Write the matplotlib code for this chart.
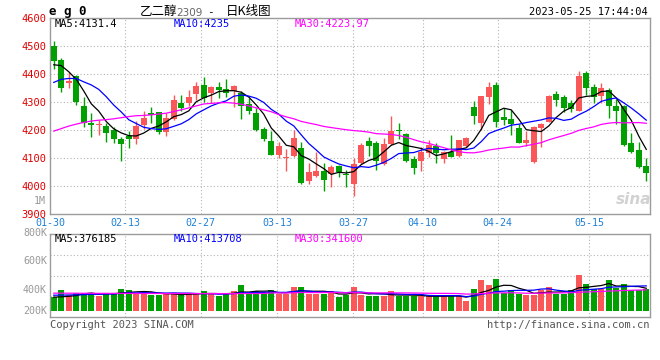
import numpy as np
import matplotlib.pyplot as plt

plt.rcParams['font.family'] = ['DejaVu Sans Mono', 'Noto Sans CJK SC']

# ---- data ----
tick_labels = ['01-30', '02-13', '02-27', '03-13', '03-27', '04-10', '04-24', '05-15']
tick_pos = [-0.5, 9.5, 19.6, 29.8, 39.9, 49.2, 59.2, 71.4]

opens = [4500, 4450, 4367, 4394, 4286, 4225, 4217, 4214, 4200, 4168,
         4179, 4169, 4219, 4261, 4264, 4192, 4239, 4296, 4296, 4329,
         4361, 4331, 4354, 4345, 4340, 4331, 4293, 4261, 4204, 4161,
         4111, 4099, 4107, 4137, 4019, 4036, 4054, 4043, 4071, 4043,
         4007, 4081, 4161, 4152, 4079, 4149, 4199, 4186, 4095, 4090,
         4119, 4144, 4098, 4121, 4108, 4144, 4281, 4224, 4319, 4361,
         4245, 4239, 4208, 4155, 4084, 4208, 4230, 4329, 4318, 4298,
         4269, 4405, 4355, 4321, 4343, 4286, 4286, 4152, 4129, 4071]
highs = [4518, 4456, 4408, 4396, 4319, 4261, 4236, 4224, 4210, 4176,
         4198, 4232, 4268, 4281, 4264, 4260, 4325, 4325, 4343, 4371,
         4388, 4357, 4373, 4382, 4361, 4339, 4316, 4277, 4210, 4198,
         4158, 4132, 4200, 4157, 4081, 4123, 4083, 4075, 4075, 4057,
         4099, 4155, 4176, 4162, 4170, 4250, 4225, 4188, 4107, 4138,
         4164, 4152, 4126, 4182, 4166, 4175, 4304, 4323, 4373, 4373,
         4277, 4271, 4221, 4196, 4214, 4226, 4325, 4339, 4324, 4307,
         4411, 4412, 4364, 4369, 4349, 4309, 4288, 4188, 4158, 4099]
lows = [4417, 4337, 4351, 4288, 4210, 4176, 4183, 4158, 4152, 4090,
        4137, 4150, 4205, 4226, 4186, 4179, 4236, 4269, 4287, 4307,
        4301, 4298, 4313, 4319, 4281, 4240, 4257, 4198, 4161, 4109,
        4099, 4055, 4105, 4007, 4007, 4033, 3983, 3995, 4031, 3998,
        3965, 4079, 4107, 4057, 4075, 4146, 4167, 4085, 4043, 4055,
        4105, 4083, 4081, 4103, 4105, 4138, 4221, 4200, 4293, 4212,
        4218, 4182, 4153, 4143, 4083, 4138, 4228, 4286, 4264, 4265,
        4267, 4324, 4295, 4295, 4242, 4221, 4143, 4117, 4065, 4019]
closes = [4447, 4351, 4376, 4299, 4224, 4218, 4220, 4190, 4169, 4151,
          4169, 4214, 4243, 4252, 4194, 4242, 4307, 4280, 4318, 4357,
          4313, 4355, 4343, 4333, 4358, 4286, 4269, 4201, 4169, 4111,
          4143, 4104, 4173, 4012, 4050, 4055, 4021, 4069, 4050, 4038,
          4079, 4146, 4144, 4090, 4150, 4197, 4195, 4090, 4065, 4123,
          4146, 4119, 4120, 4105, 4164, 4173, 4250, 4321, 4352, 4230,
          4236, 4221, 4155, 4164, 4211, 4221, 4321, 4307, 4277, 4274,
          4393, 4349, 4319, 4351, 4286, 4268, 4146, 4123, 4069, 4048]
# volume in thousands
volumes = [233, 350, 268, 303, 303, 303, 262, 303, 297, 367,
           350, 309, 332, 268, 268, 292, 292, 268, 297, 297,
           332, 297, 256, 292, 332, 437, 292, 332, 292, 350,
           292, 292, 402, 402, 292, 292, 292, 338, 233, 280,
           408, 280, 251, 262, 262, 332, 251, 251, 251, 251,
           251, 251, 251, 268, 251, 163, 367, 531, 437, 542,
           309, 350, 297, 268, 280, 350, 414, 297, 297, 350,
           612, 455, 379, 367, 525, 397, 455, 350, 350, 379]

# moving-average values before enough visible days exist
ma5_head = [4433, 4430, 4408, 4381]
ma10_head = [4370, 4381, 4384, 4384, 4372, 4361, 4345, 4319, 4289]
ma30_head = [4196, 4205, 4214, 4221, 4227, 4232, 4235, 4237, 4240, 4244,
             4248, 4251, 4252, 4254, 4257, 4260, 4266, 4272, 4279, 4286,
             4293, 4295, 4297, 4298, 4296, 4292, 4286, 4279, 4272]
vma5_head = [235, 240, 250, 262]
vma10_head = [268, 270, 272, 275, 278, 282, 285, 288, 290]
vma30_head = [303, 303, 302, 302, 301, 301, 300, 300, 300, 299,
              299, 299, 298, 298, 298, 297, 297, 297, 297, 296,
              296, 296, 296, 296, 296, 297, 297, 297, 298]


def moving_avg(vals, n, head):
    out = list(head)
    for i in range(len(head), len(vals)):
        out.append(np.mean(vals[i - n + 1:i + 1]))
    return np.array(out)


RED = '#fa5858'
GREEN = '#00a000'
GRID = '#b4b4b4'
FRAME = '#9c9c9c'
FS = 7.2

o = np.array(opens)
c = np.array(closes)
x = np.arange(len(closes))
up = c >= o
cols = np.where(up, RED, GREEN)

fig = plt.figure(figsize=(6.6, 3.6), dpi=100)


def fx(px):
    return px / 660


def fy(py):
    return 1 - py / 360


ax = fig.add_axes([fx(50), fy(214), 600 / 660, 196 / 360])
vax = fig.add_axes([fx(50), fy(317), 600 / 660, 83 / 360])

# ---- candles ----
ax.vlines(x, lows, highs, colors=cols, lw=1.0, zorder=3)
body_lo = np.minimum(o, c)
body_h = np.maximum(np.abs(c - o), 2.5)
ax.bar(x, body_h, bottom=body_lo, width=0.8, color=cols, lw=0, zorder=4)

ax.plot(x, moving_avg(c, 5, ma5_head), color='black', lw=0.9, zorder=5)
ax.plot(x, moving_avg(c, 10, ma10_head), color='#0000ff', lw=0.9, zorder=5)
ax.plot(x, moving_avg(c, 30, ma30_head), color='#ff00ff', lw=0.9, zorder=5)

ax.set_xlim(-0.5, len(x) - 0.5)
ax.set_ylim(3900, 4600)
ax.set_yticks(range(3900, 4601, 100))
ax.tick_params(axis='y', length=0, pad=2.5, labelsize=7.5, labelcolor='#e00000')
ax.set_xticks(tick_pos)
ax.set_xticklabels(tick_labels)
ax.tick_params(axis='x', length=0, pad=3.2, labelsize=FS, labelcolor='#1f7fd6')
for yv in range(4000, 4600, 100):
    ax.axhline(yv, color=GRID, lw=0.8, ls=(0, (1, 2)), zorder=1)
for xv in tick_pos[1:]:
    ax.axvline(xv, color=GRID, lw=0.8, ls=(0, (1, 2)), zorder=1)

# ---- volume ----
k = 17.0  # thousands per pixel
vlo, vhi = -6 * k, 77 * k
v = np.array(volumes)
vax.bar(x, v, width=0.76, color=cols, lw=0, zorder=2)
vax.plot(x, moving_avg(v, 5, vma5_head), color='black', lw=0.9, zorder=3)
vax.plot(x, moving_avg(v, 10, vma10_head), color='#0000ff', lw=0.9, zorder=3)
vax.plot(x, moving_avg(v, 30, vma30_head), color='#ff00ff', lw=0.9, zorder=3)
vax.set_xlim(-0.5, len(x) - 0.5)
vax.set_ylim(vlo, vhi)
vax.set_xticks([])
vax.set_yticks([])
for f in (0.25, 0.5, 0.75):
    vax.axhline(vlo + f * (vhi - vlo), color=GRID, lw=0.8, ls=(0, (1, 2)), zorder=1)
for xv in tick_pos[1:]:
    vax.axvline(xv, color=GRID, lw=0.8, ls=(0, (1, 2)), zorder=1)

for a in (ax, vax):
    for s in a.spines.values():
        s.set_color(FRAME)
        s.set_linewidth(1.0)

# ---- texts ----
fig.text(fx(55), fy(24), 'MA5:4131.4', fontsize=7.5, color='black', va='center')
fig.text(fx(174), fy(24), 'MA10:4235', fontsize=7.5, color='#0000ff', va='center')
fig.text(fx(295), fy(24), 'MA30:4223.97', fontsize=7.5, color='#ff00ff', va='center')
fig.text(fx(55), fy(239), 'MA5:376185', fontsize=7.5, color='black', va='center')
fig.text(fx(174), fy(239), 'MA10:413708', fontsize=7.5, color='#0000ff', va='center')
fig.text(fx(295), fy(239), 'MA30:341600', fontsize=7.5, color='#ff00ff', va='center')

fig.text(fx(49), fy(12), 'e g 0', fontsize=9, fontweight='bold', va='center')
cjk = ['Noto Sans CJK SC', 'DejaVu Sans']
fig.text(fx(140), fy(12), '乙二醇', family=cjk, fontsize=9, va='center')
fig.text(fx(176), fy(12.5), '2309', family=['DejaVu Sans'], fontsize=7.5, color='#666666', va='center')
fig.text(fx(207), fy(12), '-', fontsize=8, va='center')
fig.text(fx(226), fy(12), '日K线图', family=cjk, fontsize=9, va='center')
fig.text(fx(648), fy(12), '2023-05-25 17:44:04', fontsize=7.5, ha='right', va='center')

fig.text(fx(46), fy(201), '1M', fontsize=FS, color='#999999', ha='right', va='center')
for lab, py in [('800K', 233.5), ('600K', 261), ('400K', 290), ('200K', 311)]:
    fig.text(fx(47), fy(py), lab, fontsize=FS, color='#999999', ha='right', va='center')

fig.text(fx(50), fy(325), 'Copyright 2023 SINA.COM', fontsize=7.5, color='#555555', va='center')
fig.text(fx(649), fy(325), 'http://finance.sina.com.cn', fontsize=7.5, color='#555555',
         ha='right', va='center')
fig.text(fx(634), fy(200), 'sina', fontsize=11, fontweight='bold', style='italic',
         color='#d2d2d2', ha='center', va='center', family=['DejaVu Sans'], zorder=0)

fig.savefig('out.png', dpi=100)
